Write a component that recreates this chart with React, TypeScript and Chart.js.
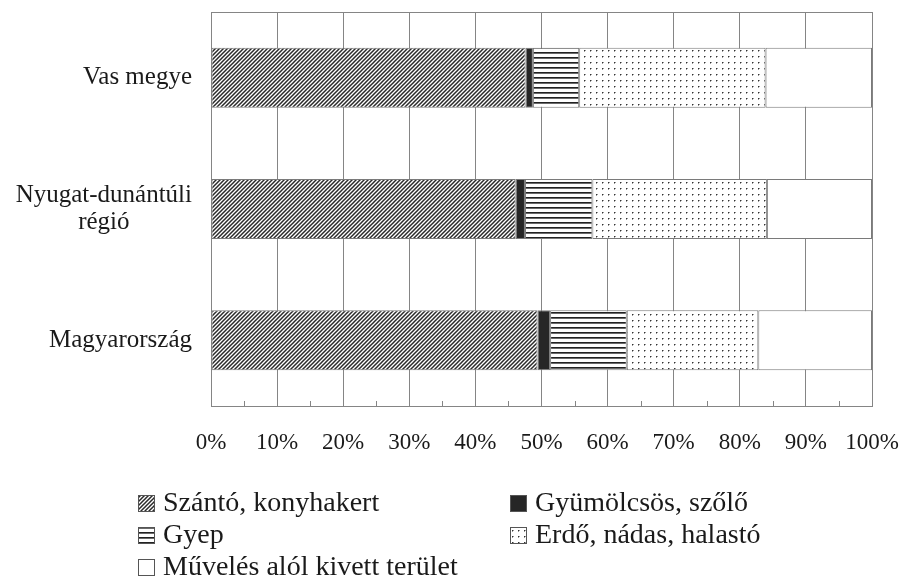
import React, { useEffect, useRef } from "react";
import { Chart, registerables } from "chart.js";

Chart.register(...registerables);

// ---- data ----
const categories: (string | string[])[] = ["Vas megye", ["Nyugat-dunántúli", "régió"], "Magyarország"];
const seriesNames = [
  "Szántó, konyhakert",
  "Gyümölcsös, szőlő",
  "Gyep",
  "Erdő, nádas, halastó",
  "Művelés alól kivett terület",
];
const szanto = [47.6, 46.1, 49.4];
const gyumolcsos = [1.1, 1.4, 1.9];
const gyep = [7.0, 10.2, 11.6];
const erdo = [28.2, 26.4, 19.9];
const muveles = [16.1, 15.9, 17.2];
const xMin = 0;
const xMax = 100;
const xStep = 10;
const minorTicks = [5, 15, 25, 35, 45, 55, 65, 75, 85, 95];

// ---- styles ----
const FONT = '"Liberation Serif", "Times New Roman", serif';
const TEXT = "#1a1a1a";
const GRID = "#858585";
const BORDER = "#7a7a7a";

function makePattern(kind: string): CanvasPattern | string {
  const c = document.createElement("canvas");
  const g = c.getContext("2d")!;
  if (kind === "hatch") {
    c.width = 4;
    c.height = 4;
    g.fillStyle = "#ffffff";
    g.fillRect(0, 0, 4, 4);
    g.strokeStyle = "#2a2a2a";
    g.lineWidth = 1.5;
    g.beginPath();
    g.moveTo(-1, 5);
    g.lineTo(5, -1);
    g.moveTo(-1, 1);
    g.lineTo(1, -1);
    g.moveTo(3, 5);
    g.lineTo(5, 3);
    g.stroke();
  } else if (kind === "hlines") {
    c.width = 4;
    c.height = 5;
    g.fillStyle = "#ffffff";
    g.fillRect(0, 0, 4, 5);
    g.fillStyle = "#222222";
    g.fillRect(0, 2, 4, 1);
    g.fillStyle = "#6a6a6a";
    g.fillRect(0, 3, 4, 1);
  } else if (kind === "dots") {
    c.width = 6;
    c.height = 6;
    g.fillStyle = "#ffffff";
    g.fillRect(0, 0, 6, 6);
    g.fillStyle = "#333333";
    g.fillRect(2, 2, 1, 1);
    g.fillStyle = "#9a9a9a";
    g.fillRect(3, 2, 1, 1);
    g.fillRect(2, 3, 1, 1);
  } else {
    return kind;
  }
  return g.createPattern(c, "repeat")!;
}

const overlayPlugin = {
  id: "overlay",
  afterDraw(chart: any) {
    const { ctx, chartArea: a, scales } = chart;
    const xs = scales.x;
    const ys = scales.y;
    ctx.save();
    // top border of plot
    ctx.strokeStyle = GRID;
    ctx.lineWidth = 1;
    ctx.beginPath();
    ctx.moveTo(a.left, Math.round(a.top) + 0.5);
    ctx.lineTo(a.right, Math.round(a.top) + 0.5);
    ctx.stroke();
    // minor ticks on bottom axis
    ctx.beginPath();
    for (const v of minorTicks) {
      const px = Math.round(xs.getPixelForValue(v)) + 0.5;
      ctx.moveTo(px, a.bottom);
      ctx.lineTo(px, a.bottom - 5);
    }
    ctx.stroke();

    // category labels: block right-aligned, lines centred in block
    ctx.font = "25px " + FONT;
    ctx.fillStyle = TEXT;
    ctx.textBaseline = "middle";
    ctx.textAlign = "center";
    const lineH = 27;
    const rightEdge = a.left - 19;
    chart.data.labels.forEach((lab: string | string[], i: number) => {
      const lines = Array.isArray(lab) ? lab : [lab];
      const w = Math.max(...lines.map((l) => ctx.measureText(l).width));
      const cx = rightEdge - w / 2;
      const cy = ys.getPixelForValue(i);
      const y0 = cy - ((lines.length - 1) * lineH) / 2;
      lines.forEach((l, k) => ctx.fillText(l, cx, y0 + k * lineH));
    });

    // legend: two columns, row-major
    const colX = [a.left - 73, a.left + 299];
    const row0 = a.bottom + 97;
    const rowH = 32;
    const box = 17;
    ctx.font = "28px " + FONT;
    ctx.textAlign = "left";
    chart.data.datasets.forEach((ds: any, i: number) => {
      const col = i % 2;
      const row = Math.floor(i / 2);
      const bx = colX[col];
      const cy = row0 + row * rowH;
      const by = Math.round(cy - box / 2);
      ctx.fillStyle = ds.backgroundColor;
      ctx.fillRect(bx, by, box, box);
      ctx.strokeStyle = "#555";
      ctx.lineWidth = 1;
      ctx.strokeRect(bx + 0.5, by + 0.5, box - 1, box - 1);
      ctx.fillStyle = TEXT;
      ctx.fillText(ds.label, bx + box + 8, cy + 1);
    });
    ctx.restore();
  },
};

export default function App() {
  const ref = useRef<HTMLCanvasElement | null>(null);

  useEffect(() => {
    document.body.style.margin = "0";
    const canvas = ref.current!;
    const fills = [
      makePattern("hatch"),
      "#262626",
      makePattern("hlines"),
      makePattern("dots"),
      "#ffffff",
    ];
    const values = [szanto, gyumolcsos, gyep, erdo, muveles];
    const chart = new Chart(canvas, {
      type: "bar",
      data: {
        labels: categories as any,
        datasets: seriesNames.map((name, i) => ({
          label: name,
          data: values[i],
          backgroundColor: fills[i] as any,
          borderColor: BORDER,
          borderWidth: 1,
          borderSkipped: false,
          barPercentage: 0.457,
          categoryPercentage: 1,
        })),
      },
      options: {
        indexAxis: "y",
        responsive: false,
        animation: false,
        events: [],
        layout: { padding: { top: 12, right: 29, left: 0, bottom: 114 } },
        plugins: { legend: { display: false }, tooltip: { enabled: false } },
        scales: {
          x: {
            stacked: true,
            min: xMin,
            max: xMax,
            ticks: {
              stepSize: xStep,
              callback: (v: any) => v + "%",
              font: { family: FONT, size: 23 },
              color: TEXT,
              padding: 23,
              maxRotation: 0,
            },
            grid: { color: GRID, lineWidth: 1, drawTicks: false },
            border: { display: true, color: GRID },
            afterFit: (s: any) => {
              s.height = 60;
              s.paddingLeft = 0;
              s.paddingRight = 0;
            },
          },
          y: {
            stacked: true,
            ticks: { display: false },
            grid: { display: false },
            border: { display: true, color: GRID },
            afterFit: (s: any) => {
              s.width = 211;
            },
          },
        },
      },
      plugins: [overlayPlugin],
    });
    return () => chart.destroy();
  }, []);

  return (
    <div style={{ width: 901, height: 580, background: "#fff" }}>
      <canvas ref={ref} width={901} height={580} />
    </div>
  );
}
